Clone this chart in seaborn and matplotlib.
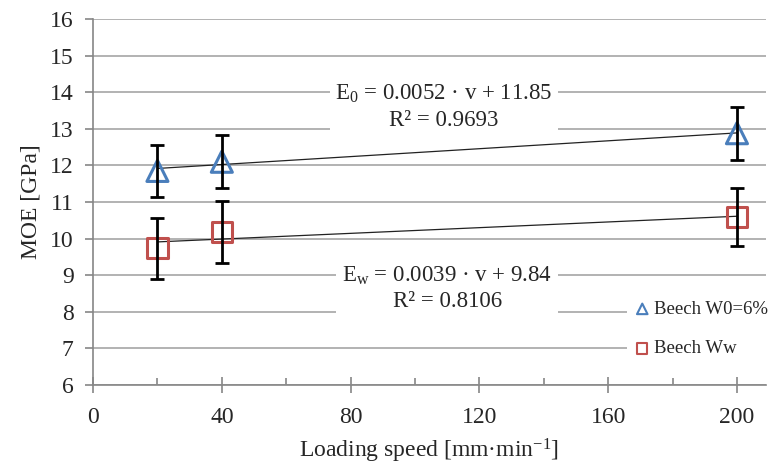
import matplotlib
matplotlib.use("Agg")
import matplotlib.pyplot as plt
import seaborn as sns
import numpy as np
import pandas as pd
from matplotlib.ticker import MultipleLocator

# ---- data ----
speed = [20, 40, 200]
moe_w0 = [11.85, 12.10, 12.88]
err_w0 = [0.70, 0.72, 0.72]
moe_ww = [9.74, 10.18, 10.59]
err_ww = [0.83, 0.85, 0.80]
label_w0 = "Beech W0=6%"
label_ww = "Beech Ww"
eq_w0 = "E$_0$ = 0.0052 · v + 11.85\nR² = 0.9693"
eq_ww = "E$_w$ = 0.0039 · v + 9.84\nR² = 0.8106"
x_ticks = [0, 40, 80, 120, 160, 200]
y_ticks = list(range(6, 17))

sns.set_theme(style="white")
plt.rcParams['font.family'] = ['Liberation Serif', 'DejaVu Serif']
plt.rcParams['mathtext.fontset'] = 'custom'
plt.rcParams['mathtext.rm'] = 'Liberation Serif'
plt.rcParams['mathtext.it'] = 'Liberation Serif'
plt.rcParams['mathtext.default'] = 'regular'

blue = "#4a7ebb"
red = "#c0504d"
grid_c = "#a6a6a6"
spine_c = "#868686"

df_w0 = pd.DataFrame({"v": speed, "E": moe_w0, "err": err_w0})
df_ww = pd.DataFrame({"v": speed, "E": moe_ww, "err": err_ww})

fig = plt.figure(figsize=(7.69, 4.69), dpi=100)
ax = fig.add_axes([0.121, 0.179, 0.875, 0.7805])

ax.set_xlim(0, 209)
ax.set_ylim(6, 16)
ax.set_xticks(x_ticks)
ax.xaxis.set_minor_locator(MultipleLocator(20))
ax.set_yticks(y_ticks)

ax.yaxis.grid(True, color=grid_c, linewidth=1.2, zorder=0)
ax.set_axisbelow(True)

# trend lines (linear fit)
for df in (df_w0, df_ww):
    sns.regplot(data=df, x="v", y="E", ax=ax, scatter=False, ci=None,
                truncate=True, color="#222222", line_kws={"linewidth": 0.9, "zorder": 3})

# markers
sns.scatterplot(data=df_w0, x="v", y="E", ax=ax, marker="^", s=230,
                facecolor="none", edgecolor=blue, linewidth=2.2, zorder=4,
                label=label_w0)
sns.scatterplot(data=df_ww, x="v", y="E", ax=ax, marker="s", s=220,
                facecolor="none", edgecolor=red, linewidth=2.2, zorder=4,
                label=label_ww)

# error bars
for df in (df_w0, df_ww):
    ax.errorbar(df["v"], df["E"], yerr=df["err"], fmt="none", ecolor="black",
                elinewidth=2, capsize=5, capthick=2, zorder=5)

# equations
ax.text(109, 13.6, eq_w0, ha="center", va="center", fontsize=16.5,
        linespacing=1.3, zorder=6,
        bbox=dict(boxstyle="square,pad=0.25", fc="white", ec="none"))
ax.text(110, 8.64, eq_ww, ha="center", va="center", fontsize=16.5,
        linespacing=1.3, zorder=6,
        bbox=dict(boxstyle="square,pad=0.25", fc="white", ec="none"))

# legend
h, l = ax.get_legend_handles_labels()
leg = ax.legend(h, l, loc="center left", bbox_to_anchor=(0.78, 0.153),
                frameon=True, fontsize=13.5, handlelength=0.6, handletextpad=0.3,
                labelspacing=1.2, borderpad=0.5, markerscale=0.5,
                facecolor="white", edgecolor="none", framealpha=1)
leg.set_zorder(6)
for hd in leg.legend_handles:
    hd.set_linewidth(1.5)

for s in ["top", "right"]:
    ax.spines[s].set_visible(False)
for s in ["left", "bottom"]:
    ax.spines[s].set_color(spine_c)
    ax.spines[s].set_linewidth(1.2)

ax.tick_params(axis="x", which="major", direction="inout", length=12, width=1.2,
               color=spine_c, labelsize=17, pad=10, bottom=True)
ax.tick_params(axis="x", which="minor", direction="in", length=5, width=1.2,
               color=spine_c, bottom=True)
ax.tick_params(axis="y", which="major", direction="out", length=6, width=1.2,
               color=spine_c, labelsize=17, pad=8, left=True)

ax.set_xlabel("Loading speed [mm·min$^{-1}$]", fontsize=17, labelpad=6)
ax.set_ylabel("MOE [GPa]", fontsize=17, labelpad=6)

fig.savefig("out.png", dpi=100)
